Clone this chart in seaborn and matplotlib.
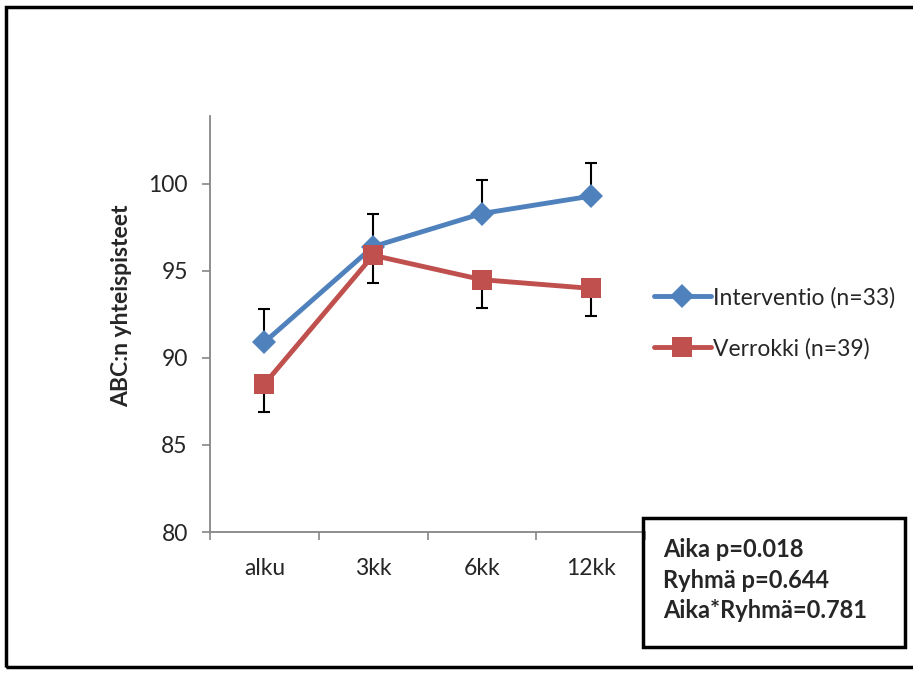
import matplotlib
matplotlib.use("Agg")
import matplotlib.pyplot as plt
import seaborn as sns
import pandas as pd
import numpy as np
from matplotlib.patches import Rectangle
from matplotlib.lines import Line2D

categories = ["alku", "3kk", "6kk", "12kk"]
interventio = [90.9, 96.4, 98.3, 99.3]
interventio_err = [1.9, 1.9, 1.9, 1.9]
verrokki = [88.5, 95.9, 94.5, 94.0]
verrokki_err = [1.6, 1.6, 1.6, 1.6]
labels = ["Interventio (n=33)", "Verrokki (n=39)"]
yticks = [80, 85, 90, 95, 100]
stats_text = "Aika p=0.018\nRyhmä p=0.644\nAika*Ryhmä=0.781"

sns.set_style("white")
plt.rcParams["font.family"] = ["Lato", "DejaVu Sans"]

blue = "#4F81BD"
red = "#C0504D"
FS = 16.5

df = pd.DataFrame({
    "x": list(range(len(categories))) * 2,
    "arvo": interventio + verrokki,
    "ryhma": [labels[0]] * 4 + [labels[1]] * 4,
})

fig = plt.figure(figsize=(9.13, 6.73), dpi=100)
ax = fig.add_axes([0.230, 0.2095, 0.4765, 0.618])

xs = np.arange(len(categories))
ax.errorbar(xs, interventio, yerr=[np.zeros(4), interventio_err], fmt="none",
            ecolor="black", elinewidth=1.5, capsize=4, capthick=1.5, zorder=1)
ax.errorbar(xs, verrokki, yerr=[verrokki_err, np.zeros(4)], fmt="none",
            ecolor="black", elinewidth=1.5, capsize=4, capthick=1.5, zorder=1)

sns.lineplot(data=df, x="x", y="arvo", hue="ryhma", style="ryhma",
             palette={labels[0]: blue, labels[1]: red},
             markers={labels[0]: "D", labels[1]: "s"},
             dashes=False, linewidth=3.5, markeredgewidth=0,
             ax=ax, legend=False, zorder=3)
for l in ax.lines:
    if l.get_marker() == "D":
        l.set_markersize(12)
    elif l.get_marker() == "s":
        l.set_markersize(14)

ax.set_xlim(-0.5, 3.5)
ax.set_ylim(80, 103.9)
ax.set_yticks(yticks)
ax.set_xticks(xs)
ax.set_xticklabels(categories)
ax.set_xticks([-0.5, 0.5, 1.5, 2.5, 3.5], minor=True)
ax.tick_params(axis="x", which="major", length=0, labelsize=FS, pad=19)
ax.tick_params(axis="x", which="minor", length=6, width=1.2, color="#868686", direction="out", bottom=True)
ax.tick_params(axis="y", which="major", length=6, width=1.2, color="#868686", direction="out", left=True, labelsize=FS, pad=10)
ax.set_xlabel("")
ax.set_ylabel("ABC:n yhteispisteet", fontsize=FS, fontweight="bold")
ax.yaxis.set_label_coords(-0.18, 0.543)
for s in ["top", "right"]:
    ax.spines[s].set_visible(False)
for s in ["left", "bottom"]:
    ax.spines[s].set_color("#868686")
    ax.spines[s].set_linewidth(1.3)

handles = [Line2D([], [], color=blue, lw=3.5, marker="D", markersize=12, markeredgewidth=0),
           Line2D([], [], color=red, lw=3.5, marker="s", markersize=14, markeredgewidth=0)]
fig.legend(handles, labels, loc="center left", bbox_to_anchor=(0.706, 0.520),
           frameon=False, fontsize=FS, handlelength=2.5, handletextpad=0.1,
           labelspacing=1.3, borderaxespad=0)

fig.patches.append(Rectangle((643 / 913, 1 - 647 / 673), (905 - 643) / 913, (647 - 518) / 673,
                             transform=fig.transFigure, fill=False, edgecolor="black", linewidth=2.5))
fig.text(663 / 913, 1 - 580 / 673, stats_text, fontsize=FS + 0.5, fontweight="bold",
         va="center", ha="left", linespacing=1.42)

fig.patches.append(Rectangle((6 / 913, 1 - 667 / 673), 920 / 913, (667 - 7) / 673,
                             transform=fig.transFigure, fill=False, edgecolor="black", linewidth=2.5))

fig.savefig("out.png", dpi=100)
